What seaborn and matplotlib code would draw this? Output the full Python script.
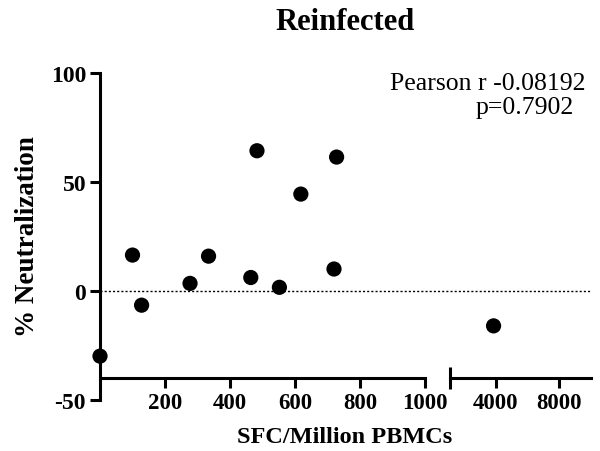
import matplotlib
matplotlib.use("Agg")
import matplotlib.pyplot as plt
import seaborn as sns
import pandas as pd

# SFC per million PBMCs vs % neutralization (reinfected donors)
sfc_low = [0, 100, 128, 277, 334, 464, 483, 552, 618, 728, 720]
neut_low = [-30.0, 16.4, -6.6, 3.4, 15.9, 6.1, 64.3, 1.6, 44.4, 61.4, 10.0]
sfc_high = [3850]
neut_high = [-16.1]

left_ticks = [200, 400, 600, 800, 1000]
right_ticks = [4000, 8000]
y_ticks = [-50, 0, 50, 100]

sns.set_style("ticks")
plt.rcParams["font.family"] = ["Liberation Serif", "DejaVu Serif"]
plt.rcParams["text.color"] = "black"
plt.rcParams["xtick.color"] = "black"
plt.rcParams["ytick.color"] = "black"
plt.rcParams["axes.edgecolor"] = "black"

fig = plt.figure(figsize=(6, 4.52), dpi=100)
bottom, top = 0.1135, 0.8363
ax1 = fig.add_axes([100 / 600, bottom, 325 / 600, top - bottom])
ax2 = fig.add_axes([450 / 600, bottom, 141 / 600, top - bottom])

low = pd.DataFrame({"sfc": sfc_low, "neut": neut_low})
high = pd.DataFrame({"sfc": sfc_high, "neut": neut_high})

lw = 2.2
for ax, df in ((ax1, low), (ax2, high)):
    sns.scatterplot(data=df, x="sfc", y="neut", ax=ax, color="black",
                    s=120, edgecolor="none", clip_on=False, zorder=5)
    ax.set_ylim(-50, 100)
    ax.set_xlabel("")
    ax.set_ylabel("")
    for side in ("top", "right"):
        ax.spines[side].set_visible(False)
    ax.spines["bottom"].set_position(("data", -40))
    ax.spines["bottom"].set_linewidth(lw)
    ax.spines["left"].set_linewidth(lw)
    ax.tick_params(axis="x", which="major", direction="out", length=7,
                   width=lw, labelsize=16.5, pad=3)
    ax.tick_params(axis="x", which="minor", direction="inout", length=16,
                   width=lw)

# left segment
ax1.set_xlim(0, 1000)
ax1.set_xticks(left_ticks)
ax1.set_xticks([1000], minor=True)
ax1.set_xticklabels([str(t) for t in left_ticks], fontweight="bold")
ax1.set_yticks(y_ticks)
ax1.set_yticklabels([str(t) for t in y_ticks], fontweight="bold")
ax1.tick_params(axis="y", direction="out", length=7, width=lw, labelsize=17, pad=3)
ax1.axhline(0, xmin=0, xmax=350 / 325, color="black", lw=1, ls=(0, (1.5, 1.5)),
            clip_on=False, zorder=1)

# right segment after the axis break
ax2.set_xlim(1100, 10000)
ax2.set_xticks(right_ticks)
ax2.set_xticks([1100], minor=True)
ax2.set_xticklabels([str(t) for t in right_ticks], fontweight="bold")
ax2.spines["left"].set_visible(False)
ax2.set_yticks([])
ax2.axhline(0, color="black", lw=1, ls=(0, (1.5, 1.5)), zorder=1)

fig.text(345 / 600, 1 - 23 / 452, "Reinfected", ha="center", va="center",
         fontsize=22, fontweight="bold")
fig.text(345 / 600, 1 - 438 / 452, "SFC/Million PBMCs", ha="center",
         va="center", fontsize=17.5, fontweight="bold")
fig.text(28 / 600, 1 - 237 / 452, "% Neutralization", ha="center",
         va="center", rotation=90, fontsize=19.5, fontweight="bold")
fig.text(586 / 600, 1 - 84 / 452, "Pearson r -0.08192", ha="right",
         va="center", fontsize=18.5)
fig.text(574 / 600, 1 - 108 / 452, "p=0.7902", ha="right",
         va="center", fontsize=18.5)

fig.savefig("out.png", dpi=100)
